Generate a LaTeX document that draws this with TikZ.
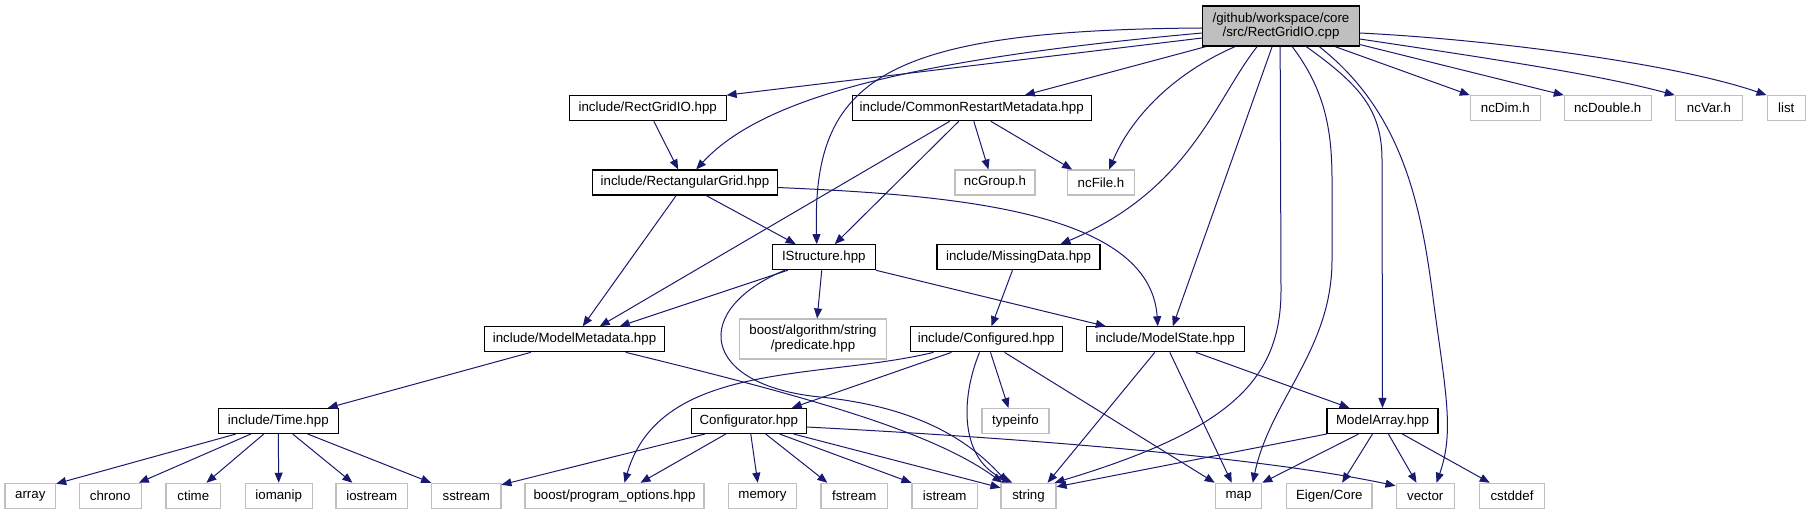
\documentclass[tikz,border=0pt]{standalone}
\usepackage{fontspec}
\setmainfont{Liberation Sans}
\usetikzlibrary{arrows.meta,calc}
\definecolor{edgeblue}{HTML}{191970}
\definecolor{greyseventyfive}{HTML}{BFBFBF}
\begin{document}
\begin{tikzpicture}[x=1pt,y=-1pt,
 nb/.style={draw=black,line width=1.1pt,fill=white,inner sep=0pt,minimum height=25pt,font=\fontsize{13.3}{15}\selectfont},
 xb/.style={nb,draw=greyseventyfive},
 dep/.style={draw=edgeblue,line width=1pt,-{Triangle[length=10pt,width=8pt]}},
]
\useasboundingbox (0,0) rectangle (1811,515);
% nodes
\node[nb,fill=greyseventyfive,minimum width=156.6pt,minimum height=40pt,align=center,font=\fontsize{13.3}{14}\selectfont] (M) at (1281,26) {/github/workspace/core\\/src/RectGridIO.cpp};
\node[nb,minimum width=156.7pt] (rgio) at (647.7,108.2) {include/RectGridIO.hpp};
\node[nb,minimum width=238.7pt] (crm) at (971.7,108.2) {include/CommonRestartMetadata.hpp};
\node[xb,minimum width=70pt] (ncdim) at (1505.3,108.2) {ncDim.h};
\node[xb,minimum width=86.7pt] (ncdouble) at (1607.7,108.2) {ncDouble.h};
\node[xb,minimum width=67.4pt] (ncvar) at (1709,108.2) {ncVar.h};
\node[xb,minimum width=38.3pt] (list) at (1786.2,108.2) {list};
\node[nb,minimum width=184.6pt] (rg) at (685,182.5) {include/RectangularGrid.hpp};
\node[xb,minimum width=80pt] (ncgroup) at (995,182.5) {ncGroup.h};
\node[xb,minimum width=66.6pt] (ncfile) at (1101,182.5) {ncFile.h};
\node[nb,minimum width=103pt] (is) at (823.8,257.2) {IStructure.hpp};
\node[nb,minimum width=163pt] (md) at (1018.5,257.2) {include/MissingData.hpp};
\node[nb,minimum width=180.4pt] (mmeta) at (574.5,339.3) {include/ModelMetadata.hpp};
\node[xb,minimum width=146.6pt,minimum height=40pt,align=center] (balg) at (813,339) {boost/algorithm/string\\/predicate.hpp};
\node[nb,minimum width=152.3pt] (cfd) at (986.2,339.3) {include/Configured.hpp};
\node[nb,minimum width=157.7pt] (ms) at (1165.2,339.3) {include/ModelState.hpp};
\node[nb,minimum width=120pt] (time) at (278.3,421) {include/Time.hpp};
\node[nb,minimum width=115pt] (cfr) at (748.8,421) {Configurator.hpp};
\node[xb,minimum width=67pt] (typeinfo) at (1015.5,421) {typeinfo};
\node[nb,minimum width=111pt] (ma) at (1382.5,421) {ModelArray.hpp};
\node[xb,minimum width=50.7pt] (array) at (30.3,495.8) {array};
\node[xb,minimum width=61.7pt] (chrono) at (110.2,495.8) {chrono};
\node[xb,minimum width=54.7pt] (ctime) at (193.3,495.8) {ctime};
\node[xb,minimum width=66.7pt] (iomanip) at (278.7,495.8) {iomanip};
\node[xb,minimum width=71.7pt] (iostream) at (371.8,495.8) {iostream};
\node[xb,minimum width=69.3pt] (sstream) at (466.3,495.8) {sstream};
\node[xb,minimum width=179pt] (po) at (614.5,495.8) {boost/program\_options.hpp};
\node[xb,minimum width=68.4pt] (memory) at (762.5,495.8) {memory};
\node[xb,minimum width=66.7pt] (fstream) at (854.3,495.8) {fstream};
\node[xb,minimum width=65.5pt] (istream) at (944.7,495.8) {istream};
\node[xb,minimum width=55pt] (string) at (1028.5,495.8) {string};
\node[xb,minimum width=46.4pt] (map) at (1238.5,495.8) {map};
\node[xb,minimum width=85.3pt] (eigen) at (1329.3,495.8) {Eigen/Core};
\node[xb,minimum width=58.3pt] (vector) at (1425.2,495.8) {vector};
\node[xb,minimum width=65.4pt] (cstddef) at (1512,495.8) {cstddef};
% edges from main
\draw[dep] ($(M.west)+(0,2)$) .. controls (880,30) and (812,80) .. ($(is.north west)+(45,0)$);
\draw[dep] ($(M.west)+(0,12)$) -- (rgio.north east);
\draw[dep] ($(M.west)+(0,7)$) .. controls (900,60) and (760,100) .. ($(rg.north west)+(104,0)$);
\draw[dep] ($(M.south west)+(4,0)$) -- ($(crm.north west)+(173,0)$);
\draw[dep] ($(M.south west)+(33,0)$) .. controls (1170,75) and (1130,120) .. ($(ncfile.north west)+(42,0)$);
\draw[dep] ($(M.south west)+(55,0)$) .. controls (1215,100) and (1190,190) .. ($(md.north west)+(124,0)$);
\draw[dep] ($(M.south west)+(70,0)$) -- ($(ms.north west)+(87,0)$);
\draw[dep] ($(M.south west)+(78,0)$) -- (1281,290) .. controls (1281,380) and (1230,430) .. ($(string.north east)+(-2,0)$);
\draw[dep] ($(M.south west)+(90,0)$) .. controls (1325,90) and (1332,130) .. (1332,180) -- (1332,260) .. controls (1332,350) and (1270,400) .. ($(map.north west)+(38,0)$);
\draw[dep] ($(M.south west)+(104,0)$) .. controls (1360,85) and (1382,110) .. (1382,160) -- (ma.north);
\draw[dep] ($(M.south west)+(117,0)$) .. controls (1400,110) and (1420,200) .. (1432,290) .. controls (1445,390) and (1455,430) .. ($(vector.north west)+(41,0)$);
\draw[dep] ($(M.south east)+(-25,0)$) -- (ncdim.north west);
\draw[dep] ($(M.south east)+(0,-2)$) -- (ncdouble.north west);
\draw[dep] ($(M.east)+(0,13)$) .. controls (1500,60) and (1600,75) .. (ncvar.north west);
\draw[dep] ($(M.east)+(0,7)$) .. controls (1500,40) and (1680,65) .. (list.north west);
% other edges
\draw[dep] ($(rgio.south west)+(85,0)$) -- ($(rg.north west)+(86,0)$);
\draw[dep] ($(rg.south west)+(114,0)$) -- ($(is.north west)+(24,0)$);
\draw[dep] ($(rg.south west)+(84,0)$) -- ($(mmeta.north west)+(99,0)$);
\draw[dep] ($(rg.east)+(0,5)$) .. controls (950,195) and (1150,210) .. ($(ms.north west)+(72,0)$);
\draw[dep] ($(crm.south west)+(98,0)$) -- ($(mmeta.north west)+(116,0)$);
\draw[dep] ($(crm.south west)+(107,0)$) -- ($(is.north west)+(63,0)$);
\draw[dep] ($(crm.south west)+(122,0)$) -- ($(ncgroup.north west)+(34,0)$);
\draw[dep] ($(crm.south west)+(139,0)$) -- ($(ncfile.north west)+(5,0)$);
\draw[dep] ($(is.south west)+(16,0)$) -- ($(mmeta.north west)+(136,0)$);
\draw[dep] ($(is.south west)+(50,0)$) -- ($(balg.north west)+(78,0)$);
\draw[dep] ($(is.south west)+(13,0)$) .. controls (690,310) and (700,385) .. (820,397) .. controls (900,405) and (960,430) .. ($(string.north west)+(7,0)$);
\draw[dep] (is.south east) -- ($(ms.north west)+(20,0)$);
\draw[dep] ($(mmeta.south west)+(47,0)$) -- ($(time.north west)+(110,0)$);
\draw[dep] ($(mmeta.south west)+(142,0)$) .. controls (800,395) and (930,430) .. ($(string.north west)+(2,0)$);
\draw[dep] ($(md.south west)+(76,0)$) -- ($(cfd.north west)+(82,0)$);
\draw[dep] ($(cfd.south west)+(24,0)$) .. controls (820,380) and (660,360) .. ($(po.north west)+(100,0)$);
\draw[dep] ($(cfd.south west)+(42,0)$) -- ($(cfr.north west)+(101,0)$);
\draw[dep] ($(cfd.south west)+(70,0)$) .. controls (960,400) and (960,460) .. ($(string.north west)+(12,0)$);
\draw[dep] ($(cfd.south west)+(81,0)$) -- ($(typeinfo.north west)+(27,0)$);
\draw[dep] ($(cfd.south west)+(95,0)$) -- (map.north west);
\draw[dep] ($(ms.south west)+(69,0)$) -- ($(string.north east)+(-9,0)$);
\draw[dep] ($(ms.south west)+(84,0)$) -- ($(map.north west)+(17,0)$);
\draw[dep] ($(ms.south west)+(110,0)$) -- ($(ma.north west)+(23,0)$);
\draw[dep] ($(cfr.south west)+(14,0)$) -- ($(sstream.north east)+(0,2)$);
\draw[dep] ($(cfr.south west)+(35,0)$) -- ($(po.north west)+(116,0)$);
\draw[dep] ($(cfr.south west)+(60,0)$) -- ($(memory.north west)+(30,0)$);
\draw[dep] ($(cfr.south west)+(75,0)$) -- ($(fstream.north west)+(7,0)$);
\draw[dep] ($(cfr.south west)+(89,0)$) -- (istream.north west);
\draw[dep] ($(cfr.south west)+(103,0)$) -- ($(string.north west)+(0,5)$);
\draw[dep] ($(cfr.east)+(0,6)$) .. controls (1000,437) and (1250,455) .. ($(vector.north west)+(0,3)$);
\draw[dep] (ma.south west) -- ($(string.north east)+(0,4)$);
\draw[dep] ($(ma.south west)+(32,0)$) -- (map.north east);
\draw[dep] ($(ma.south west)+(46,0)$) -- ($(eigen.north west)+(56,0)$);
\draw[dep] ($(ma.south west)+(62,0)$) -- ($(vector.north west)+(21,0)$);
\draw[dep] ($(ma.south west)+(76,0)$) -- ($(cstddef.north west)+(11,0)$);
\draw[dep] ($(time.south west)+(18,0)$) -- ($(array.north east)+(0,1)$);
\draw[dep] ($(time.south west)+(33,0)$) -- ($(chrono.north west)+(60,0)$);
\draw[dep] ($(time.south west)+(46,0)$) -- ($(ctime.north west)+(41,0)$);
\draw[dep] (time.south) -- (iomanip.north);
\draw[dep] ($(time.south west)+(75,0)$) -- ($(iostream.north west)+(17,0)$);
\draw[dep] ($(time.south west)+(90,0)$) -- (sstream.north west);
\end{tikzpicture}
\end{document}
